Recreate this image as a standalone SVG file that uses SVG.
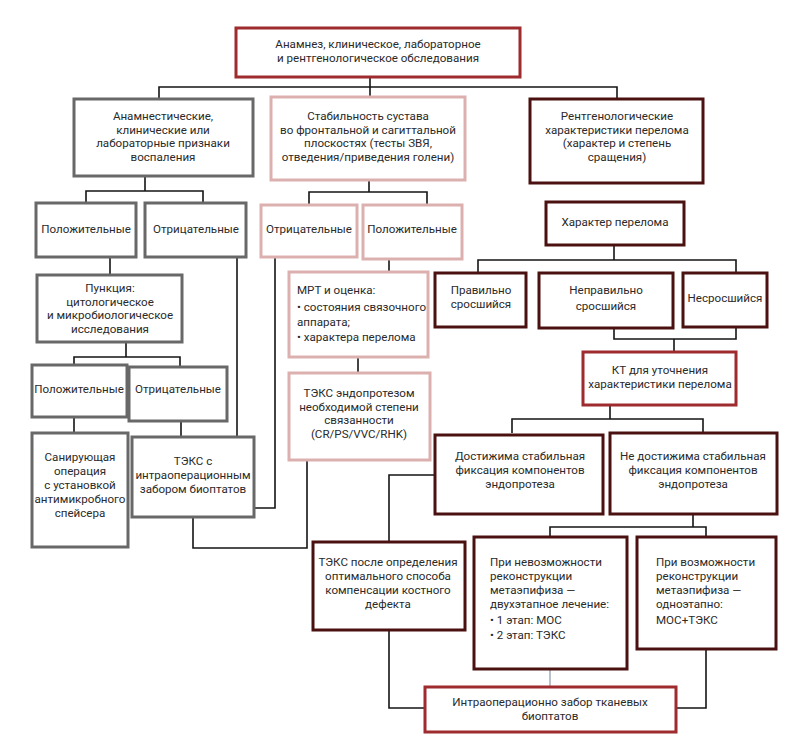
<svg xmlns="http://www.w3.org/2000/svg" width="805" height="742" viewBox="0 0 805 742">
<style>
.b{fill:#fff;stroke-width:3}
.red{stroke:#9e2b2d}
.grey{stroke:#686868}
.pink{stroke:#ddb0b0}
.dark{stroke:#4b1010}
.c{fill:none;stroke:#151515;stroke-width:1.6}
.thin{fill:none;stroke:#8a97ab;stroke-width:1.2}
text{font-family:Roboto,"Open Sans","Liberation Sans",sans-serif;font-size:11.6px;fill:#2a2a2a}
.m{text-anchor:middle}
</style>
<rect width="805" height="742" fill="#fff"/>
<g id="connectors">
<path class="c" d="M370,77V97M159,99V87H617V99"/>
<path class="c" d="M145,176V191M86,203V191H203V203"/>
<path class="c" d="M369,180V192M309,205V192H427V205"/>
<path class="c" d="M110,257V275"/>
<path class="c" d="M126,342V357M74,365V357H180V367"/>
<path class="c" d="M74,417V433M181,421V437"/>
<path class="c" d="M237,257V437"/>
<path class="c" d="M275,257V508H254"/>
<path class="c" d="M193,517V548H307V460"/>
<path class="c" d="M389,259V272"/>
<path class="c" d="M358,357V373"/>
<path class="c" d="M614,245V260M478,273V260H736V273"/>
<path class="c" d="M614,328V339H736V327M674,339V352"/>
<path class="c" d="M610,405V419M512,433V419H703V433"/>
<path class="c" d="M435,475H389V542"/>
<path class="c" d="M693,514V527M550,537V527H706V537"/>
<path class="thin" d="M550,669V687"/>
<path class="c" d="M389,630V708H425"/>
<path class="c" d="M706,649V708H676"/>
</g>
<g id="n-top"><rect class="b red" x="236" y="28" width="284" height="49"/>
<text class="m" x="378"><tspan x="378" y="48">Анамнез, клиническое, лабораторное</tspan><tspan x="378" y="62">и рентгенологическое обследования</tspan></text></g>
<g id="n-anamn"><rect class="b grey" x="74" y="99" width="179" height="77"/>
<text class="m"><tspan x="163" y="120">Анамнестические,</tspan><tspan x="163" y="133.5">клинические или</tspan><tspan x="163" y="147">лабораторные признаки</tspan><tspan x="163" y="160.5">воспаления</tspan></text></g>
<g id="n-stab"><rect class="b pink" x="271" y="97" width="194" height="83"/>
<text class="m"><tspan x="368" y="120">Стабильность сустава</tspan><tspan x="368" y="133.5">во фронтальной и сагиттальной</tspan><tspan x="368" y="147">плоскостях (тесты ЗВЯ,</tspan><tspan x="368" y="160.5">отведения/приведения голени)</tspan></text></g>
<g id="n-rent"><rect class="b dark" x="530" y="99" width="173" height="84"/>
<text class="m"><tspan x="617" y="120">Рентгенологические</tspan><tspan x="617" y="133.5">характеристики перелома</tspan><tspan x="617" y="147">(характер и степень</tspan><tspan x="617" y="160.5">сращения)</tspan></text></g>
<g id="n-pos1"><rect class="b grey" x="36" y="203" width="100" height="54"/>
<text class="m" x="86" y="233">Положительные</text></g>
<g id="n-neg1"><rect class="b grey" x="145" y="203" width="101" height="54"/>
<text class="m" x="196" y="233">Отрицательные</text></g>
<g id="n-neg2"><rect class="b pink" x="261" y="205" width="96" height="52"/>
<text class="m" x="309" y="233">Отрицательные</text></g>
<g id="n-pos2"><rect class="b pink" x="363" y="205" width="99" height="54"/>
<text class="m" x="412" y="233">Положительные</text></g>
<g id="n-punk"><rect class="b grey" x="37" y="275" width="145" height="67"/>
<text class="m"><tspan x="110" y="292">Пункция:</tspan><tspan x="110" y="305.5">цитологическое</tspan><tspan x="110" y="319">и микробиологическое</tspan><tspan x="110" y="332.5">исследования</tspan></text></g>
<g id="n-pos3"><rect class="b grey" x="32" y="365" width="95" height="52"/>
<text class="m" x="79" y="393">Положительные</text></g>
<g id="n-neg3"><rect class="b grey" x="129" y="367" width="98" height="54"/>
<text class="m" x="178" y="393">Отрицательные</text></g>
<g id="n-san"><rect class="b grey" x="32" y="433" width="96" height="114"/>
<text class="m"><tspan x="80" y="461">Санирующая</tspan><tspan x="80" y="475">операция</tspan><tspan x="80" y="489">с установкой</tspan><tspan x="80" y="503">антимикробного</tspan><tspan x="80" y="517">спейсера</tspan></text></g>
<g id="n-teksbio"><rect class="b grey" x="132" y="437" width="122" height="80"/>
<text class="m"><tspan x="193" y="465">ТЭКС с</tspan><tspan x="193" y="479">интраоперационным</tspan><tspan x="193" y="493">забором биоптатов</tspan></text></g>
<g id="n-mrt"><rect class="b pink" x="289" y="272" width="139" height="85"/>
<text><tspan x="297" y="294">МРТ и оценка:</tspan><tspan x="297" y="311">• состояния связочного</tspan><tspan x="297" y="326">аппарата;</tspan><tspan x="297" y="341">• характера перелома</tspan></text></g>
<g id="n-teksendo"><rect class="b pink" x="289" y="373" width="141" height="87"/>
<text class="m"><tspan x="359" y="397">ТЭКС эндопротезом</tspan><tspan x="359" y="410.5">необходимой степени</tspan><tspan x="359" y="424">связанности</tspan><tspan x="359" y="437.5">(CR/PS/VVC/RHK)</tspan></text></g>
<g id="n-har"><rect class="b dark" x="546" y="202" width="138" height="43"/>
<text class="m" x="615" y="226">Характер перелома</text></g>
<g id="n-prav"><rect class="b dark" x="435" y="273" width="91" height="54"/>
<text class="m"><tspan x="481" y="294">Правильно</tspan><tspan x="481" y="307.5">сросшийся</tspan></text></g>
<g id="n-neprav"><rect class="b dark" x="539" y="273" width="134" height="55"/>
<text class="m"><tspan x="606" y="294">Неправильно</tspan><tspan x="606" y="310">сросшийся</tspan></text></g>
<g id="n-nesr"><rect class="b dark" x="683" y="273" width="84" height="54"/>
<text class="m" x="725" y="302">Несросшийся</text></g>
<g id="n-kt"><rect class="b red" x="583" y="352" width="153" height="53"/>
<text class="m"><tspan x="660" y="374">КТ для уточнения</tspan><tspan x="660" y="388">характеристики перелома</tspan></text></g>
<g id="n-dost"><rect class="b dark" x="435" y="435" width="168" height="79"/>
<text class="m"><tspan x="520" y="460">Достижима стабильная</tspan><tspan x="520" y="474">фиксация компонентов</tspan><tspan x="520" y="488">эндопротеза</tspan></text></g>
<g id="n-nedost"><rect class="b dark" x="610" y="433" width="167" height="81"/>
<text class="m"><tspan x="693" y="460">Не достижима стабильная</tspan><tspan x="693" y="474">фиксация компонентов</tspan><tspan x="693" y="488">эндопротеза</tspan></text></g>
<g id="n-tekspos"><rect class="b dark" x="313" y="542" width="152" height="88"/>
<text class="m"><tspan x="388" y="566">ТЭКС после определения</tspan><tspan x="388" y="580">оптимального способа</tspan><tspan x="388" y="594">компенсации костного</tspan><tspan x="388" y="608">дефекта</tspan></text></g>
<g id="n-nevoz"><rect class="b dark" x="474" y="537" width="153" height="132"/>
<text><tspan x="490" y="566">При невозможности</tspan><tspan x="490" y="580">реконструкции</tspan><tspan x="490" y="594">метаэпифиза —</tspan><tspan x="490" y="608">двухэтапное лечение:</tspan><tspan x="490" y="624">• 1 этап: МОС</tspan><tspan x="490" y="639">• 2 этап: ТЭКС</tspan></text></g>
<g id="n-voz"><rect class="b dark" x="637" y="537" width="139" height="112"/>
<text><tspan x="656" y="566">При возможности</tspan><tspan x="656" y="580">реконструкции</tspan><tspan x="656" y="594">метаэпифиза —</tspan><tspan x="656" y="608">одноэтапно:</tspan><tspan x="656" y="624">МОС+ТЭКС</tspan></text></g>
<g id="n-intra"><rect class="b red" x="425" y="687" width="251" height="45"/>
<text class="m"><tspan x="550" y="706">Интраоперационно забор тканевых</tspan><tspan x="550" y="720">биоптатов</tspan></text></g>
</svg>
